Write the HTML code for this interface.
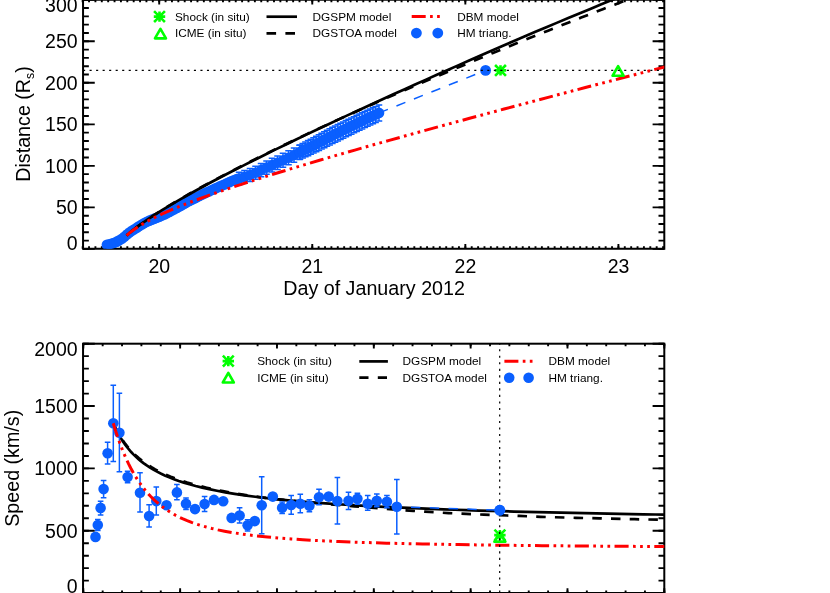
<!DOCTYPE html>
<html><head><meta charset="utf-8"><title>CME kinematics</title>
<style>html,body{margin:0;padding:0;background:#fff;overflow:hidden}svg{display:block;will-change:transform;transform:translateZ(0)}text{fill:#000}</style>
</head><body>
<svg width="830" height="593" viewBox="0 0 830 593">
<rect width="830" height="593" fill="#fff"/>
<g id="top">
<clipPath id="ct"><rect x="83.05" y="-5" width="581.25" height="253.75"/></clipPath>
<rect x="83.05" y="-0.25" width="581.25" height="249.0" fill="none" stroke="#000" stroke-width="2"/>
<path d="M82.66 248.75v-2.60M89.04 248.75v-2.60M95.42 248.75v-2.60M101.80 248.75v-2.60M108.18 248.75v-2.60M114.55 248.75v-2.60M120.93 248.75v-2.60M127.31 248.75v-2.60M133.69 248.75v-2.60M140.07 248.75v-2.60M146.44 248.75v-2.60M152.82 248.75v-2.60M159.20 248.75v-2.60M165.58 248.75v-2.60M171.96 248.75v-2.60M178.33 248.75v-2.60M184.71 248.75v-2.60M191.09 248.75v-2.60M197.47 248.75v-2.60M203.85 248.75v-2.60M210.22 248.75v-2.60M216.60 248.75v-2.60M222.98 248.75v-2.60M229.36 248.75v-2.60M235.74 248.75v-2.60M242.11 248.75v-2.60M248.49 248.75v-2.60M254.87 248.75v-2.60M261.25 248.75v-2.60M267.62 248.75v-2.60M274.00 248.75v-2.60M280.38 248.75v-2.60M286.76 248.75v-2.60M293.14 248.75v-2.60M299.51 248.75v-2.60M305.89 248.75v-2.60M312.27 248.75v-2.60M318.65 248.75v-2.60M325.03 248.75v-2.60M331.40 248.75v-2.60M337.78 248.75v-2.60M344.16 248.75v-2.60M350.54 248.75v-2.60M356.92 248.75v-2.60M363.29 248.75v-2.60M369.67 248.75v-2.60M376.05 248.75v-2.60M382.43 248.75v-2.60M388.81 248.75v-2.60M395.18 248.75v-2.60M401.56 248.75v-2.60M407.94 248.75v-2.60M414.32 248.75v-2.60M420.69 248.75v-2.60M427.07 248.75v-2.60M433.45 248.75v-2.60M439.83 248.75v-2.60M446.21 248.75v-2.60M452.58 248.75v-2.60M458.96 248.75v-2.60M465.34 248.75v-2.60M471.72 248.75v-2.60M478.10 248.75v-2.60M484.47 248.75v-2.60M490.85 248.75v-2.60M497.23 248.75v-2.60M503.61 248.75v-2.60M509.99 248.75v-2.60M516.36 248.75v-2.60M522.74 248.75v-2.60M529.12 248.75v-2.60M535.50 248.75v-2.60M541.88 248.75v-2.60M548.25 248.75v-2.60M554.63 248.75v-2.60M561.01 248.75v-2.60M567.39 248.75v-2.60M573.76 248.75v-2.60M580.14 248.75v-2.60M586.52 248.75v-2.60M592.90 248.75v-2.60M599.28 248.75v-2.60M605.65 248.75v-2.60M612.03 248.75v-2.60M618.41 248.75v-2.60M624.79 248.75v-2.60M631.17 248.75v-2.60M637.54 248.75v-2.60M643.92 248.75v-2.60M650.30 248.75v-2.60M656.68 248.75v-2.60M663.06 248.75v-2.60" stroke="#000" stroke-width="1.9" fill="none"/>
<path d="M82.66 -0.25v2.60M89.04 -0.25v2.60M95.42 -0.25v2.60M101.80 -0.25v2.60M108.18 -0.25v2.60M114.55 -0.25v2.60M120.93 -0.25v2.60M127.31 -0.25v2.60M133.69 -0.25v2.60M140.07 -0.25v2.60M146.44 -0.25v2.60M152.82 -0.25v2.60M159.20 -0.25v2.60M165.58 -0.25v2.60M171.96 -0.25v2.60M178.33 -0.25v2.60M184.71 -0.25v2.60M191.09 -0.25v2.60M197.47 -0.25v2.60M203.85 -0.25v2.60M210.22 -0.25v2.60M216.60 -0.25v2.60M222.98 -0.25v2.60M229.36 -0.25v2.60M235.74 -0.25v2.60M242.11 -0.25v2.60M248.49 -0.25v2.60M254.87 -0.25v2.60M261.25 -0.25v2.60M267.62 -0.25v2.60M274.00 -0.25v2.60M280.38 -0.25v2.60M286.76 -0.25v2.60M293.14 -0.25v2.60M299.51 -0.25v2.60M305.89 -0.25v2.60M312.27 -0.25v2.60M318.65 -0.25v2.60M325.03 -0.25v2.60M331.40 -0.25v2.60M337.78 -0.25v2.60M344.16 -0.25v2.60M350.54 -0.25v2.60M356.92 -0.25v2.60M363.29 -0.25v2.60M369.67 -0.25v2.60M376.05 -0.25v2.60M382.43 -0.25v2.60M388.81 -0.25v2.60M395.18 -0.25v2.60M401.56 -0.25v2.60M407.94 -0.25v2.60M414.32 -0.25v2.60M420.69 -0.25v2.60M427.07 -0.25v2.60M433.45 -0.25v2.60M439.83 -0.25v2.60M446.21 -0.25v2.60M452.58 -0.25v2.60M458.96 -0.25v2.60M465.34 -0.25v2.60M471.72 -0.25v2.60M478.10 -0.25v2.60M484.47 -0.25v2.60M490.85 -0.25v2.60M497.23 -0.25v2.60M503.61 -0.25v2.60M509.99 -0.25v2.60M516.36 -0.25v2.60M522.74 -0.25v2.60M529.12 -0.25v2.60M535.50 -0.25v2.60M541.88 -0.25v2.60M548.25 -0.25v2.60M554.63 -0.25v2.60M561.01 -0.25v2.60M567.39 -0.25v2.60M573.76 -0.25v2.60M580.14 -0.25v2.60M586.52 -0.25v2.60M592.90 -0.25v2.60M599.28 -0.25v2.60M605.65 -0.25v2.60M612.03 -0.25v2.60M618.41 -0.25v2.60M624.79 -0.25v2.60M631.17 -0.25v2.60M637.54 -0.25v2.60M643.92 -0.25v2.60M650.30 -0.25v2.60M656.68 -0.25v2.60M663.06 -0.25v2.60" stroke="#000" stroke-width="1.9" fill="none"/>
<path d="M159.20 248.75v-4.80M312.27 248.75v-4.80M465.34 248.75v-4.80M618.41 248.75v-4.80" stroke="#000" stroke-width="1.9" fill="none"/>
<path d="M159.20 -0.25v4.80M312.27 -0.25v4.80M465.34 -0.25v4.80M618.41 -0.25v4.80" stroke="#000" stroke-width="1.9" fill="none"/>
<path d="M83.05 248.90h5.80M83.05 240.59h5.80M83.05 232.29h5.80M83.05 223.99h5.80M83.05 215.68h5.80M83.05 207.38h5.80M83.05 199.07h5.80M83.05 190.77h5.80M83.05 182.46h5.80M83.05 174.16h5.80M83.05 165.85h5.80M83.05 157.55h5.80M83.05 149.24h5.80M83.05 140.94h5.80M83.05 132.63h5.80M83.05 124.33h5.80M83.05 116.02h5.80M83.05 107.72h5.80M83.05 99.41h5.80M83.05 91.10h5.80M83.05 82.80h5.80M83.05 74.50h5.80M83.05 66.19h5.80M83.05 57.88h5.80M83.05 49.58h5.80M83.05 41.28h5.80M83.05 32.97h5.80M83.05 24.66h5.80M83.05 16.36h5.80M83.05 8.06h5.80M83.05 -0.25h5.80" stroke="#000" stroke-width="1.9" fill="none"/>
<path d="M664.30 248.90h-5.80M664.30 240.59h-5.80M664.30 232.29h-5.80M664.30 223.99h-5.80M664.30 215.68h-5.80M664.30 207.38h-5.80M664.30 199.07h-5.80M664.30 190.77h-5.80M664.30 182.46h-5.80M664.30 174.16h-5.80M664.30 165.85h-5.80M664.30 157.55h-5.80M664.30 149.24h-5.80M664.30 140.94h-5.80M664.30 132.63h-5.80M664.30 124.33h-5.80M664.30 116.02h-5.80M664.30 107.72h-5.80M664.30 99.41h-5.80M664.30 91.10h-5.80M664.30 82.80h-5.80M664.30 74.50h-5.80M664.30 66.19h-5.80M664.30 57.88h-5.80M664.30 49.58h-5.80M664.30 41.28h-5.80M664.30 32.97h-5.80M664.30 24.66h-5.80M664.30 16.36h-5.80M664.30 8.06h-5.80M664.30 -0.25h-5.80" stroke="#000" stroke-width="1.9" fill="none"/>
<path d="M83.05 248.90h11.70M83.05 207.38h11.70M83.05 165.85h11.70M83.05 124.33h11.70M83.05 82.80h11.70M83.05 41.28h11.70M83.05 -0.25h11.70" stroke="#000" stroke-width="1.9" fill="none"/>
<path d="M664.30 248.90h-11.70M664.30 207.38h-11.70M664.30 165.85h-11.70M664.30 124.33h-11.70M664.30 82.80h-11.70M664.30 41.28h-11.70M664.30 -0.25h-11.70" stroke="#000" stroke-width="1.9" fill="none"/>
<g clip-path="url(#ct)">
<path d="M379.0 112.90L485.6 70.4" stroke="#0a5fff" stroke-width="1.5" stroke-dasharray="9.6 9.2" stroke-dashoffset="0" fill="none"/>
<path d="M239.00 172.14V184.74M235.75 172.14h6.5M235.75 184.74h6.5" stroke="#0a5fff" stroke-width="1.5" fill="none"/>
<path d="M244.50 170.51V183.27M241.25 170.51h6.5M241.25 183.27h6.5" stroke="#0a5fff" stroke-width="1.5" fill="none"/>
<path d="M250.00 168.55V181.47M246.75 168.55h6.5M246.75 181.47h6.5" stroke="#0a5fff" stroke-width="1.5" fill="none"/>
<path d="M255.50 166.16V179.24M252.25 166.16h6.5M252.25 179.24h6.5" stroke="#0a5fff" stroke-width="1.5" fill="none"/>
<path d="M261.00 163.54V176.78M257.75 163.54h6.5M257.75 176.78h6.5" stroke="#0a5fff" stroke-width="1.5" fill="none"/>
<path d="M266.50 160.88V174.28M263.25 160.88h6.5M263.25 174.28h6.5" stroke="#0a5fff" stroke-width="1.5" fill="none"/>
<path d="M272.00 158.35V171.91M268.75 158.35h6.5M268.75 171.91h6.5" stroke="#0a5fff" stroke-width="1.5" fill="none"/>
<path d="M277.50 155.89V169.62M274.25 155.89h6.5M274.25 169.62h6.5" stroke="#0a5fff" stroke-width="1.5" fill="none"/>
<path d="M283.00 153.33V167.22M279.75 153.33h6.5M279.75 167.22h6.5" stroke="#0a5fff" stroke-width="1.5" fill="none"/>
<path d="M288.50 150.67V164.72M285.25 150.67h6.5M285.25 164.72h6.5" stroke="#0a5fff" stroke-width="1.5" fill="none"/>
<path d="M294.00 147.95V162.17M290.75 147.95h6.5M290.75 162.17h6.5" stroke="#0a5fff" stroke-width="1.5" fill="none"/>
<path d="M299.50 145.18V159.57M296.25 145.18h6.5M296.25 159.57h6.5" stroke="#0a5fff" stroke-width="1.5" fill="none"/>
<path d="M300.00 144.93V159.33M296.75 144.93h6.5M296.75 159.33h6.5" stroke="#0a5fff" stroke-width="1.5" fill="none"/>
<path d="M302.70 143.48V158.10M299.45 143.48h6.5M299.45 158.10h6.5" stroke="#0a5fff" stroke-width="1.5" fill="none"/>
<path d="M305.40 142.03V156.87M302.15 142.03h6.5M302.15 156.87h6.5" stroke="#0a5fff" stroke-width="1.5" fill="none"/>
<path d="M308.10 140.58V155.63M304.85 140.58h6.5M304.85 155.63h6.5" stroke="#0a5fff" stroke-width="1.5" fill="none"/>
<path d="M310.80 139.13V154.37M307.55 139.13h6.5M307.55 154.37h6.5" stroke="#0a5fff" stroke-width="1.5" fill="none"/>
<path d="M313.50 137.69V153.06M310.25 137.69h6.5M310.25 153.06h6.5" stroke="#0a5fff" stroke-width="1.5" fill="none"/>
<path d="M316.20 136.23V151.73M312.95 136.23h6.5M312.95 151.73h6.5" stroke="#0a5fff" stroke-width="1.5" fill="none"/>
<path d="M318.90 134.75V150.38M315.65 134.75h6.5M315.65 150.38h6.5" stroke="#0a5fff" stroke-width="1.5" fill="none"/>
<path d="M321.60 133.27V149.02M318.35 133.27h6.5M318.35 149.02h6.5" stroke="#0a5fff" stroke-width="1.5" fill="none"/>
<path d="M324.30 131.77V147.66M321.05 131.77h6.5M321.05 147.66h6.5" stroke="#0a5fff" stroke-width="1.5" fill="none"/>
<path d="M327.00 130.28V146.30M323.75 130.28h6.5M323.75 146.30h6.5" stroke="#0a5fff" stroke-width="1.5" fill="none"/>
<path d="M329.70 128.80V144.95M326.45 128.80h6.5M326.45 144.95h6.5" stroke="#0a5fff" stroke-width="1.5" fill="none"/>
<path d="M332.40 127.34V143.62M329.15 127.34h6.5M329.15 143.62h6.5" stroke="#0a5fff" stroke-width="1.5" fill="none"/>
<path d="M335.10 125.90V142.30M331.85 125.90h6.5M331.85 142.30h6.5" stroke="#0a5fff" stroke-width="1.5" fill="none"/>
<path d="M337.80 124.56V140.93M334.55 124.56h6.5M334.55 140.93h6.5" stroke="#0a5fff" stroke-width="1.5" fill="none"/>
<path d="M340.50 123.22V139.57M337.25 123.22h6.5M337.25 139.57h6.5" stroke="#0a5fff" stroke-width="1.5" fill="none"/>
<path d="M343.20 121.89V138.22M339.95 121.89h6.5M339.95 138.22h6.5" stroke="#0a5fff" stroke-width="1.5" fill="none"/>
<path d="M345.90 120.57V136.87M342.65 120.57h6.5M342.65 136.87h6.5" stroke="#0a5fff" stroke-width="1.5" fill="none"/>
<path d="M348.60 119.25V135.52M345.35 119.25h6.5M345.35 135.52h6.5" stroke="#0a5fff" stroke-width="1.5" fill="none"/>
<path d="M351.30 117.94V134.19M348.05 117.94h6.5M348.05 134.19h6.5" stroke="#0a5fff" stroke-width="1.5" fill="none"/>
<path d="M354.00 116.63V132.86M350.75 116.63h6.5M350.75 132.86h6.5" stroke="#0a5fff" stroke-width="1.5" fill="none"/>
<path d="M356.70 115.33V131.53M353.45 115.33h6.5M353.45 131.53h6.5" stroke="#0a5fff" stroke-width="1.5" fill="none"/>
<path d="M359.40 114.04V130.22M356.15 114.04h6.5M356.15 130.22h6.5" stroke="#0a5fff" stroke-width="1.5" fill="none"/>
<path d="M362.10 112.75V128.91M358.85 112.75h6.5M358.85 128.91h6.5" stroke="#0a5fff" stroke-width="1.5" fill="none"/>
<path d="M364.80 111.48V127.61M361.55 111.48h6.5M361.55 127.61h6.5" stroke="#0a5fff" stroke-width="1.5" fill="none"/>
<path d="M367.50 110.21V126.31M364.25 110.21h6.5M364.25 126.31h6.5" stroke="#0a5fff" stroke-width="1.5" fill="none"/>
<path d="M370.20 108.95V125.03M366.95 108.95h6.5M366.95 125.03h6.5" stroke="#0a5fff" stroke-width="1.5" fill="none"/>
<path d="M372.90 107.70V123.75M369.65 107.70h6.5M369.65 123.75h6.5" stroke="#0a5fff" stroke-width="1.5" fill="none"/>
<path d="M375.60 106.45V122.48M372.35 106.45h6.5M372.35 122.48h6.5" stroke="#0a5fff" stroke-width="1.5" fill="none"/>
<path d="M379.00 104.90V120.90M375.75 104.90h6.5M375.75 120.90h6.5" stroke="#0a5fff" stroke-width="1.5" fill="none"/>
<circle cx="106.90" cy="244.68" r="5.3" fill="#0a5fff"/>
<circle cx="109.40" cy="244.20" r="5.3" fill="#0a5fff"/>
<circle cx="111.90" cy="243.53" r="5.3" fill="#0a5fff"/>
<circle cx="114.40" cy="242.73" r="5.3" fill="#0a5fff"/>
<circle cx="116.90" cy="241.65" r="5.3" fill="#0a5fff"/>
<circle cx="119.40" cy="240.28" r="5.3" fill="#0a5fff"/>
<circle cx="121.90" cy="238.74" r="5.3" fill="#0a5fff"/>
<circle cx="124.40" cy="236.82" r="5.3" fill="#0a5fff"/>
<circle cx="126.90" cy="234.61" r="5.3" fill="#0a5fff"/>
<circle cx="129.40" cy="232.52" r="5.3" fill="#0a5fff"/>
<circle cx="131.90" cy="230.78" r="5.3" fill="#0a5fff"/>
<circle cx="134.40" cy="229.18" r="5.3" fill="#0a5fff"/>
<circle cx="136.90" cy="227.63" r="5.3" fill="#0a5fff"/>
<circle cx="139.40" cy="226.07" r="5.3" fill="#0a5fff"/>
<circle cx="141.90" cy="224.49" r="5.3" fill="#0a5fff"/>
<circle cx="144.40" cy="223.03" r="5.3" fill="#0a5fff"/>
<circle cx="146.90" cy="221.77" r="5.3" fill="#0a5fff"/>
<circle cx="149.40" cy="220.66" r="5.3" fill="#0a5fff"/>
<circle cx="151.90" cy="219.64" r="5.3" fill="#0a5fff"/>
<circle cx="154.40" cy="218.65" r="5.3" fill="#0a5fff"/>
<circle cx="156.90" cy="217.73" r="5.3" fill="#0a5fff"/>
<circle cx="159.40" cy="216.70" r="5.3" fill="#0a5fff"/>
<circle cx="161.90" cy="215.58" r="5.3" fill="#0a5fff"/>
<circle cx="164.40" cy="214.39" r="5.3" fill="#0a5fff"/>
<circle cx="166.90" cy="213.15" r="5.3" fill="#0a5fff"/>
<circle cx="169.40" cy="211.88" r="5.3" fill="#0a5fff"/>
<circle cx="171.90" cy="210.58" r="5.3" fill="#0a5fff"/>
<circle cx="174.40" cy="209.29" r="5.3" fill="#0a5fff"/>
<circle cx="176.90" cy="207.95" r="5.3" fill="#0a5fff"/>
<circle cx="179.40" cy="206.56" r="5.3" fill="#0a5fff"/>
<circle cx="181.90" cy="205.14" r="5.3" fill="#0a5fff"/>
<circle cx="184.40" cy="203.73" r="5.3" fill="#0a5fff"/>
<circle cx="186.90" cy="202.34" r="5.3" fill="#0a5fff"/>
<circle cx="189.40" cy="201.00" r="5.3" fill="#0a5fff"/>
<circle cx="191.90" cy="199.71" r="5.3" fill="#0a5fff"/>
<circle cx="194.40" cy="198.45" r="5.3" fill="#0a5fff"/>
<circle cx="196.90" cy="197.20" r="5.3" fill="#0a5fff"/>
<circle cx="199.40" cy="195.97" r="5.3" fill="#0a5fff"/>
<circle cx="201.90" cy="194.76" r="5.3" fill="#0a5fff"/>
<circle cx="204.40" cy="193.56" r="5.3" fill="#0a5fff"/>
<circle cx="206.90" cy="192.37" r="5.3" fill="#0a5fff"/>
<circle cx="209.40" cy="191.20" r="5.3" fill="#0a5fff"/>
<circle cx="211.90" cy="190.04" r="5.3" fill="#0a5fff"/>
<circle cx="214.40" cy="188.90" r="5.3" fill="#0a5fff"/>
<circle cx="216.90" cy="187.77" r="5.3" fill="#0a5fff"/>
<circle cx="219.40" cy="186.66" r="5.3" fill="#0a5fff"/>
<circle cx="221.90" cy="185.54" r="5.3" fill="#0a5fff"/>
<circle cx="224.40" cy="184.43" r="5.3" fill="#0a5fff"/>
<circle cx="226.90" cy="183.29" r="5.3" fill="#0a5fff"/>
<circle cx="229.40" cy="182.13" r="5.3" fill="#0a5fff"/>
<circle cx="231.90" cy="181.01" r="5.3" fill="#0a5fff"/>
<circle cx="234.40" cy="179.99" r="5.3" fill="#0a5fff"/>
<circle cx="236.90" cy="179.09" r="5.3" fill="#0a5fff"/>
<circle cx="239.00" cy="178.44" r="5.3" fill="#0a5fff"/>
<circle cx="244.50" cy="176.89" r="5.3" fill="#0a5fff"/>
<circle cx="250.00" cy="175.01" r="5.3" fill="#0a5fff"/>
<circle cx="255.50" cy="172.70" r="5.3" fill="#0a5fff"/>
<circle cx="261.00" cy="170.16" r="5.3" fill="#0a5fff"/>
<circle cx="266.50" cy="167.58" r="5.3" fill="#0a5fff"/>
<circle cx="272.00" cy="165.13" r="5.3" fill="#0a5fff"/>
<circle cx="277.50" cy="162.76" r="5.3" fill="#0a5fff"/>
<circle cx="283.00" cy="160.27" r="5.3" fill="#0a5fff"/>
<circle cx="288.50" cy="157.70" r="5.3" fill="#0a5fff"/>
<circle cx="294.00" cy="155.06" r="5.3" fill="#0a5fff"/>
<circle cx="299.50" cy="152.37" r="5.3" fill="#0a5fff"/>
<circle cx="300.00" cy="152.13" r="5.3" fill="#0a5fff"/>
<circle cx="302.70" cy="150.79" r="5.3" fill="#0a5fff"/>
<circle cx="305.40" cy="149.45" r="5.3" fill="#0a5fff"/>
<circle cx="308.10" cy="148.10" r="5.3" fill="#0a5fff"/>
<circle cx="310.80" cy="146.75" r="5.3" fill="#0a5fff"/>
<circle cx="313.50" cy="145.38" r="5.3" fill="#0a5fff"/>
<circle cx="316.20" cy="143.98" r="5.3" fill="#0a5fff"/>
<circle cx="318.90" cy="142.57" r="5.3" fill="#0a5fff"/>
<circle cx="321.60" cy="141.14" r="5.3" fill="#0a5fff"/>
<circle cx="324.30" cy="139.72" r="5.3" fill="#0a5fff"/>
<circle cx="327.00" cy="138.29" r="5.3" fill="#0a5fff"/>
<circle cx="329.70" cy="136.88" r="5.3" fill="#0a5fff"/>
<circle cx="332.40" cy="135.48" r="5.3" fill="#0a5fff"/>
<circle cx="335.10" cy="134.10" r="5.3" fill="#0a5fff"/>
<circle cx="337.80" cy="132.75" r="5.3" fill="#0a5fff"/>
<circle cx="340.50" cy="131.40" r="5.3" fill="#0a5fff"/>
<circle cx="343.20" cy="130.05" r="5.3" fill="#0a5fff"/>
<circle cx="345.90" cy="128.72" r="5.3" fill="#0a5fff"/>
<circle cx="348.60" cy="127.39" r="5.3" fill="#0a5fff"/>
<circle cx="351.30" cy="126.06" r="5.3" fill="#0a5fff"/>
<circle cx="354.00" cy="124.74" r="5.3" fill="#0a5fff"/>
<circle cx="356.70" cy="123.43" r="5.3" fill="#0a5fff"/>
<circle cx="359.40" cy="122.13" r="5.3" fill="#0a5fff"/>
<circle cx="362.10" cy="120.83" r="5.3" fill="#0a5fff"/>
<circle cx="364.80" cy="119.54" r="5.3" fill="#0a5fff"/>
<circle cx="367.50" cy="118.26" r="5.3" fill="#0a5fff"/>
<circle cx="370.20" cy="116.99" r="5.3" fill="#0a5fff"/>
<circle cx="372.90" cy="115.72" r="5.3" fill="#0a5fff"/>
<circle cx="375.60" cy="114.47" r="5.3" fill="#0a5fff"/>
<circle cx="379.00" cy="112.90" r="5.3" fill="#0a5fff"/>
<circle cx="485.60" cy="70.40" r="5.4" fill="#0a5fff"/>
<path d="M126.60 235.54 L129.64 232.86 L133.22 229.92 L137.47 226.65 L142.42 223.06 L148.11 219.14 L154.67 214.83 L162.02 210.19 L170.41 205.10 L179.77 199.61 L190.12 193.73 L200.52 187.99 L211.05 182.30 L221.55 176.75 L232.11 171.27 L242.71 165.84 L253.33 160.49 L263.96 155.20 L274.70 149.91 L285.43 144.68 L296.12 139.52 L306.91 134.36 L317.66 129.27 L328.48 124.17 L339.24 119.14 L350.07 114.11 L360.83 109.15 L371.65 104.19 L382.53 99.22 L393.33 94.32 L404.18 89.42 L415.08 84.53 L426.03 79.63 L436.88 74.79 L447.77 69.96 L458.70 65.13 L469.68 60.29 L480.55 55.53 L491.45 50.76 L502.39 46.01 L513.36 41.27 L524.37 36.55 L535.41 31.85 L546.33 27.23 L557.28 22.63 L568.25 18.04 L579.26 13.46 L590.29 8.90 L601.35 4.36 L612.43 -0.16 L623.54 -4.67 L634.51 -9.10 L645.51 -13.52 L656.54 -17.92 L667.58 -22.31 L670.38 -23.41" stroke="#000" stroke-width="2.7" fill="none"/>
<path d="M126.60 235.54 L129.71 232.79 L133.44 229.72 L137.76 226.39 L142.78 222.74 L148.53 218.75 L155.04 214.44 L162.44 209.74 L170.77 204.64 L180.07 199.16 L190.35 193.28 L200.81 187.46 L211.31 181.78 L221.91 176.16 L232.46 170.68 L243.07 165.26 L253.70 159.90 L264.35 154.61 L275.00 149.38 L285.78 144.16 L296.55 139.00 L307.31 133.90 L318.06 128.88 L328.92 123.85 L339.77 118.88 L350.59 113.98 L361.52 109.08 L372.40 104.25 L383.24 99.48 L394.16 94.71 L405.03 90.01 L415.97 85.31 L426.98 80.61 L437.90 75.97 L448.88 71.33 L459.91 66.69 L470.84 62.12 L481.83 57.55 L492.88 52.98 L503.83 48.48 L514.83 44.00 L525.87 39.53 L536.95 35.07 L548.07 30.63 L559.06 26.27 L570.09 21.92 L581.15 17.59 L592.26 13.27 L603.39 8.97 L614.56 4.68 L625.76 0.40 L636.84 -3.80 L647.94 -7.98 L659.07 -12.15 L670.24 -16.31 L681.44 -20.45 L689.48 -23.41" stroke="#000" stroke-width="2.7" stroke-dasharray="9.6 9.30" stroke-dashoffset="7.13" fill="none"/>
<path d="M126.60 235.54 L129.05 233.40 L131.80 231.20 L134.86 228.98 L138.23 226.72 L142.06 224.34 L146.34 221.88 L151.24 219.25 L156.60 216.56 L162.72 213.67 L169.61 210.60 L177.26 207.37 L185.99 203.87 L195.78 200.13 L206.80 196.10 L217.98 192.16 L229.31 188.30 L240.63 184.55 L251.96 180.88 L263.29 177.29 L274.61 173.77 L285.94 170.30 L297.42 166.83 L308.90 163.41 L320.38 160.02 L331.86 156.67 L343.34 153.36 L354.82 150.07 L366.30 146.80 L377.78 143.56 L389.26 140.34 L400.74 137.15 L412.22 133.97 L423.70 130.80 L435.19 127.66 L446.67 124.53 L458.15 121.41 L469.63 118.30 L481.11 115.21 L492.59 112.12 L504.07 109.05 L515.55 105.99 L527.03 102.94 L538.51 99.90 L549.99 96.86 L561.47 93.83 L572.95 90.81 L584.43 87.80 L595.91 84.80 L607.39 81.80 L618.87 78.81 L630.35 75.82 L641.83 72.84 L653.31 69.87 L664.79 66.90 L669.23 65.75" stroke="#ff0000" stroke-width="3" stroke-dasharray="14.050 4.365 2.710 4.365 2.710 4.365 2.710 4.365" fill="none"/>
</g>
<path d="M496.10 70.4h8.80M500.5 66.60v7.60M496.00 65.90l9.00 9.00M496.00 74.90l9.00 -9.00" stroke="#00ff00" stroke-width="2.6" stroke-linecap="square" fill="none"/>
<path d="M618.1 66.2L623.6 75.75L612.6 75.75Z" stroke="#00ff00" stroke-width="2.6" fill="none" stroke-linejoin="round"/>
<path d="M83.05 70.34H664.3" stroke="#000" stroke-width="1.2" stroke-dasharray="2.1 4.42" stroke-dashoffset="0" fill="none"/>
<text x="77.6" y="214.275" font-size="19.5" text-anchor="end" font-family="Liberation Sans, sans-serif" >50</text>
<text x="77.6" y="172.75000000000003" font-size="19.5" text-anchor="end" font-family="Liberation Sans, sans-serif" >100</text>
<text x="77.6" y="131.225" font-size="19.5" text-anchor="end" font-family="Liberation Sans, sans-serif" >150</text>
<text x="77.6" y="89.70000000000002" font-size="19.5" text-anchor="end" font-family="Liberation Sans, sans-serif" >200</text>
<text x="77.6" y="48.175000000000004" font-size="19.5" text-anchor="end" font-family="Liberation Sans, sans-serif" >250</text>
<text x="77.6" y="11.7" font-size="19.5" text-anchor="end" font-family="Liberation Sans, sans-serif" >300</text>
<text x="77.6" y="249.9" font-size="19.5" text-anchor="end" font-family="Liberation Sans, sans-serif" >0</text>
<text x="159.29999999999998" y="273.3" font-size="19.5" text-anchor="middle" font-family="Liberation Sans, sans-serif" >20</text>
<text x="312.37" y="273.3" font-size="19.5" text-anchor="middle" font-family="Liberation Sans, sans-serif" >21</text>
<text x="465.44" y="273.3" font-size="19.5" text-anchor="middle" font-family="Liberation Sans, sans-serif" >22</text>
<text x="618.51" y="273.3" font-size="19.5" text-anchor="middle" font-family="Liberation Sans, sans-serif" >23</text>
<text x="374.1" y="294.9" font-size="19.7" text-anchor="middle" font-family="Liberation Sans, sans-serif" >Day of January 2012</text>
<text transform="translate(29.8 124) rotate(-90)" font-size="19.7" text-anchor="middle" font-family="Liberation Sans, sans-serif">Distance (R<tspan font-size="12.2" dy="4">s</tspan><tspan dy="-4">)</tspan></text>
<path d="M155.10 16.6h8.80M159.5 12.80v7.60M155.00 12.10l9.00 9.00M155.00 21.10l9.00 -9.00" stroke="#00ff00" stroke-width="2.6" stroke-linecap="square" fill="none"/>
<path d="M160.45 28.8L165.95 38.35L154.95 38.35Z" stroke="#00ff00" stroke-width="2.6" fill="none" stroke-linejoin="round"/>
<text x="175.0" y="20.6" font-size="11.8" text-anchor="start" font-family="Liberation Sans, sans-serif" >Shock (in situ)</text>
<text x="175.0" y="37.3" font-size="11.8" text-anchor="start" font-family="Liberation Sans, sans-serif" >ICME (in situ)</text>
<path d="M266.5 16.7H297" stroke="#000" stroke-width="2.7" fill="none"/>
<path d="M266.5 33.3H295" stroke="#000" stroke-width="2.7" stroke-dasharray="9.6 9.3" fill="none"/>
<text x="312.6" y="20.6" font-size="11.8" text-anchor="start" font-family="Liberation Sans, sans-serif" >DGSPM model</text>
<text x="312.6" y="37.3" font-size="11.8" text-anchor="start" font-family="Liberation Sans, sans-serif" >DGSTOA model</text>
<path d="M411.7 16.4H440.3" stroke="#ff0000" stroke-width="3" stroke-dasharray="14.000 4.350 2.700 4.350 2.700 4.350 2.700 4.350" fill="none"/>
<circle cx="416.40" cy="33.05" r="5.4" fill="#0a5fff"/>
<circle cx="437.80" cy="33.05" r="5.4" fill="#0a5fff"/>
<text x="457.2" y="20.6" font-size="11.8" text-anchor="start" font-family="Liberation Sans, sans-serif" >DBM model</text>
<text x="457.2" y="37.3" font-size="11.8" text-anchor="start" font-family="Liberation Sans, sans-serif" >HM triang.</text>
</g>
<g id="bot">
<clipPath id="cb"><rect x="83.05" y="343.7" width="581.25" height="254.3"/></clipPath>
<rect x="83.05" y="343.7" width="581.25" height="249.3" fill="none" stroke="#000" stroke-width="2"/>
<path d="M83.30 593.00v-2.60M102.67 593.00v-2.60M122.03 593.00v-2.60M141.40 593.00v-2.60M160.77 593.00v-2.60M180.13 593.00v-2.60M199.50 593.00v-2.60M218.87 593.00v-2.60M238.24 593.00v-2.60M257.60 593.00v-2.60M276.97 593.00v-2.60M296.34 593.00v-2.60M315.70 593.00v-2.60M335.07 593.00v-2.60M354.44 593.00v-2.60M373.81 593.00v-2.60M393.17 593.00v-2.60M412.54 593.00v-2.60M431.91 593.00v-2.60M451.27 593.00v-2.60M470.64 593.00v-2.60M490.01 593.00v-2.60M509.37 593.00v-2.60M528.74 593.00v-2.60M548.11 593.00v-2.60M567.48 593.00v-2.60M586.84 593.00v-2.60M606.21 593.00v-2.60M625.58 593.00v-2.60M644.94 593.00v-2.60M664.31 593.00v-2.60" stroke="#000" stroke-width="1.9" fill="none"/>
<path d="M83.30 343.70v2.60M102.67 343.70v2.60M122.03 343.70v2.60M141.40 343.70v2.60M160.77 343.70v2.60M180.13 343.70v2.60M199.50 343.70v2.60M218.87 343.70v2.60M238.24 343.70v2.60M257.60 343.70v2.60M276.97 343.70v2.60M296.34 343.70v2.60M315.70 343.70v2.60M335.07 343.70v2.60M354.44 343.70v2.60M373.81 343.70v2.60M393.17 343.70v2.60M412.54 343.70v2.60M431.91 343.70v2.60M451.27 343.70v2.60M470.64 343.70v2.60M490.01 343.70v2.60M509.37 343.70v2.60M528.74 343.70v2.60M548.11 343.70v2.60M567.48 343.70v2.60M586.84 343.70v2.60M606.21 343.70v2.60M625.58 343.70v2.60M644.94 343.70v2.60M664.31 343.70v2.60" stroke="#000" stroke-width="1.9" fill="none"/>
<path d="M83.30 593.00v-4.80M180.13 593.00v-4.80M276.97 593.00v-4.80M373.81 593.00v-4.80M470.64 593.00v-4.80M567.48 593.00v-4.80M664.31 593.00v-4.80" stroke="#000" stroke-width="1.9" fill="none"/>
<path d="M83.30 343.70v4.80M180.13 343.70v4.80M276.97 343.70v4.80M373.81 343.70v4.80M470.64 343.70v4.80M567.48 343.70v4.80M664.31 343.70v4.80" stroke="#000" stroke-width="1.9" fill="none"/>
<path d="M83.05 593.10h5.80M83.05 580.63h5.80M83.05 568.16h5.80M83.05 555.69h5.80M83.05 543.22h5.80M83.05 530.75h5.80M83.05 518.28h5.80M83.05 505.81h5.80M83.05 493.34h5.80M83.05 480.87h5.80M83.05 468.40h5.80M83.05 455.93h5.80M83.05 443.46h5.80M83.05 430.99h5.80M83.05 418.52h5.80M83.05 406.05h5.80M83.05 393.58h5.80M83.05 381.11h5.80M83.05 368.64h5.80M83.05 356.17h5.80M83.05 343.70h5.80" stroke="#000" stroke-width="1.9" fill="none"/>
<path d="M664.30 593.10h-5.80M664.30 580.63h-5.80M664.30 568.16h-5.80M664.30 555.69h-5.80M664.30 543.22h-5.80M664.30 530.75h-5.80M664.30 518.28h-5.80M664.30 505.81h-5.80M664.30 493.34h-5.80M664.30 480.87h-5.80M664.30 468.40h-5.80M664.30 455.93h-5.80M664.30 443.46h-5.80M664.30 430.99h-5.80M664.30 418.52h-5.80M664.30 406.05h-5.80M664.30 393.58h-5.80M664.30 381.11h-5.80M664.30 368.64h-5.80M664.30 356.17h-5.80M664.30 343.70h-5.80" stroke="#000" stroke-width="1.9" fill="none"/>
<path d="M83.05 593.10h11.70M83.05 530.75h11.70M83.05 468.40h11.70M83.05 406.05h11.70M83.05 343.70h11.70" stroke="#000" stroke-width="1.9" fill="none"/>
<path d="M664.30 593.10h-11.70M664.30 530.75h-11.70M664.30 468.40h-11.70M664.30 406.05h-11.70M664.30 343.70h-11.70" stroke="#000" stroke-width="1.9" fill="none"/>
<g clip-path="url(#cb)">
<path d="M113.30 423.30 L115.14 427.46 L116.98 431.25 L118.81 434.70 L120.65 437.87 L122.49 440.80 L124.33 443.50 L126.53 446.49 L128.74 449.24 L130.94 451.77 L133.15 454.11 L135.72 456.64 L138.30 458.96 L140.87 461.11 L143.81 463.38 L146.75 465.47 L150.06 467.63 L153.37 469.63 L157.04 471.66 L160.72 473.53 L164.76 475.43 L169.17 477.32 L173.95 479.19 L178.73 480.91 L183.88 482.60 L189.39 484.26 L195.64 485.97 L202.26 487.61 L209.24 489.19 L216.96 490.76 L225.41 492.32 L234.60 493.85 L244.53 495.33 L255.19 496.76 L266.95 498.17 L278.71 499.44 L290.48 500.58 L302.24 501.62 L314.00 502.56 L325.76 503.43 L337.53 504.23 L349.29 504.97 L361.05 505.65 L372.82 506.29 L384.58 506.89 L396.34 507.44 L408.10 507.97 L419.87 508.46 L431.63 508.92 L443.39 509.36 L455.15 509.77 L466.92 510.16 L478.68 510.53 L490.44 510.89 L502.20 511.22 L513.97 511.54 L525.73 511.85 L537.49 512.14 L549.26 512.42 L561.02 512.69 L572.78 512.95 L584.54 513.20 L596.31 513.43 L608.07 513.66 L619.83 513.88 L631.59 514.09 L643.36 514.30 L655.12 514.49 L664.31 514.64" stroke="#000" stroke-width="2.7" fill="none"/>
<path d="M113.30 423.30 L114.77 426.50 L116.61 430.15 L118.45 433.48 L120.28 436.53 L122.49 439.91 L124.70 443.03 L126.90 445.92 L129.11 448.58 L131.31 451.04 L133.88 453.68 L136.46 456.11 L139.03 458.35 L141.97 460.72 L144.91 462.90 L148.22 465.16 L151.53 467.24 L155.20 469.37 L158.88 471.33 L162.92 473.32 L167.34 475.30 L171.75 477.13 L176.52 478.94 L181.67 480.74 L187.18 482.50 L193.07 484.22 L199.31 485.89 L206.67 487.69 L214.75 489.51 L222.84 491.16 L231.29 492.74 L241.22 494.41 L251.14 495.93 L261.07 497.29 L272.10 498.64 L283.86 499.94 L295.62 501.14 L307.38 502.25 L319.15 503.30 L330.91 504.30 L342.67 505.32 L354.44 506.33 L366.20 507.30 L377.96 508.27 L389.72 509.20 L401.49 510.08 L413.25 510.89 L425.01 511.66 L436.77 512.39 L448.54 513.06 L460.30 513.67 L472.06 514.20 L483.83 514.66 L495.59 515.09 L507.35 515.50 L519.11 515.93 L530.51 516.40 L540.43 516.82 L552.20 517.18 L563.96 517.51 L575.72 517.81 L587.48 518.10 L599.25 518.39 L611.01 518.67 L622.77 518.94 L634.54 519.20 L646.30 519.46 L658.06 519.71 L664.31 519.85" stroke="#000" stroke-width="2.7" stroke-dasharray="9.5 9.20" stroke-dashoffset="18.06" fill="none"/>
<path d="M396.8 506.7L499.8 510.2" stroke="#0a5fff" stroke-width="1.5" stroke-dasharray="9.4 9.4" stroke-dashoffset="4.6" fill="none"/>
<path d="M97.80 519.60V530.60M95.00 519.60h5.6M95.00 530.60h5.6" stroke="#0a5fff" stroke-width="1.5" fill="none"/>
<path d="M100.60 501.30V515.00M97.80 501.30h5.6M97.80 515.00h5.6" stroke="#0a5fff" stroke-width="1.5" fill="none"/>
<path d="M103.60 480.60V497.80M100.80 480.60h5.6M100.80 497.80h5.6" stroke="#0a5fff" stroke-width="1.5" fill="none"/>
<path d="M107.60 442.20V464.00M104.80 442.20h5.6M104.80 464.00h5.6" stroke="#0a5fff" stroke-width="1.5" fill="none"/>
<path d="M113.30 385.30V461.40M110.50 385.30h5.6M110.50 461.40h5.6" stroke="#0a5fff" stroke-width="1.5" fill="none"/>
<path d="M119.40 393.20V471.80M116.60 393.20h5.6M116.60 471.80h5.6" stroke="#0a5fff" stroke-width="1.5" fill="none"/>
<path d="M127.60 471.20V482.80M124.80 471.20h5.6M124.80 482.80h5.6" stroke="#0a5fff" stroke-width="1.5" fill="none"/>
<path d="M140.00 472.80V512.00M137.20 472.80h5.6M137.20 512.00h5.6" stroke="#0a5fff" stroke-width="1.5" fill="none"/>
<path d="M149.10 504.70V527.00M146.30 504.70h5.6M146.30 527.00h5.6" stroke="#0a5fff" stroke-width="1.5" fill="none"/>
<path d="M156.30 487.10V515.00M153.50 487.10h5.6M153.50 515.00h5.6" stroke="#0a5fff" stroke-width="1.5" fill="none"/>
<path d="M176.90 484.60V499.80M174.10 484.60h5.6M174.10 499.80h5.6" stroke="#0a5fff" stroke-width="1.5" fill="none"/>
<path d="M186.00 497.90V509.50M183.20 497.90h5.6M183.20 509.50h5.6" stroke="#0a5fff" stroke-width="1.5" fill="none"/>
<path d="M204.60 496.60V511.40M201.80 496.60h5.6M201.80 511.40h5.6" stroke="#0a5fff" stroke-width="1.5" fill="none"/>
<path d="M239.60 507.70V522.90M236.80 507.70h5.6M236.80 522.90h5.6" stroke="#0a5fff" stroke-width="1.5" fill="none"/>
<path d="M247.60 519.70V530.90M244.80 519.70h5.6M244.80 530.90h5.6" stroke="#0a5fff" stroke-width="1.5" fill="none"/>
<path d="M261.70 476.70V533.70M258.90 476.70h5.6M258.90 533.70h5.6" stroke="#0a5fff" stroke-width="1.5" fill="none"/>
<path d="M282.15 502.00V513.50M279.35 502.00h5.6M279.35 513.50h5.6" stroke="#0a5fff" stroke-width="1.5" fill="none"/>
<path d="M291.20 495.60V514.30M288.40 495.60h5.6M288.40 514.30h5.6" stroke="#0a5fff" stroke-width="1.5" fill="none"/>
<path d="M300.30 494.20V512.80M297.50 494.20h5.6M297.50 512.80h5.6" stroke="#0a5fff" stroke-width="1.5" fill="none"/>
<path d="M309.40 499.70V511.80M306.60 499.70h5.6M306.60 511.80h5.6" stroke="#0a5fff" stroke-width="1.5" fill="none"/>
<path d="M319.00 489.20V504.70M316.20 489.20h5.6M316.20 504.70h5.6" stroke="#0a5fff" stroke-width="1.5" fill="none"/>
<path d="M337.40 477.40V524.00M334.60 477.40h5.6M334.60 524.00h5.6" stroke="#0a5fff" stroke-width="1.5" fill="none"/>
<path d="M348.50 492.20V509.40M345.70 492.20h5.6M345.70 509.40h5.6" stroke="#0a5fff" stroke-width="1.5" fill="none"/>
<path d="M357.40 493.20V504.20M354.60 493.20h5.6M354.60 504.20h5.6" stroke="#0a5fff" stroke-width="1.5" fill="none"/>
<path d="M367.70 495.60V510.20M364.90 495.60h5.6M364.90 510.20h5.6" stroke="#0a5fff" stroke-width="1.5" fill="none"/>
<path d="M376.80 494.00V506.80M374.00 494.00h5.6M374.00 506.80h5.6" stroke="#0a5fff" stroke-width="1.5" fill="none"/>
<path d="M386.90 495.60V507.80M384.10 495.60h5.6M384.10 507.80h5.6" stroke="#0a5fff" stroke-width="1.5" fill="none"/>
<path d="M396.80 479.40V534.10M394.00 479.40h5.6M394.00 534.10h5.6" stroke="#0a5fff" stroke-width="1.5" fill="none"/>
<circle cx="95.50" cy="536.90" r="5.3" fill="#0a5fff"/>
<circle cx="97.80" cy="525.10" r="5.3" fill="#0a5fff"/>
<circle cx="100.60" cy="507.90" r="5.3" fill="#0a5fff"/>
<circle cx="103.60" cy="489.10" r="5.3" fill="#0a5fff"/>
<circle cx="107.60" cy="453.30" r="5.3" fill="#0a5fff"/>
<circle cx="113.30" cy="423.30" r="5.3" fill="#0a5fff"/>
<circle cx="119.40" cy="432.70" r="5.3" fill="#0a5fff"/>
<circle cx="127.60" cy="477.00" r="5.3" fill="#0a5fff"/>
<circle cx="140.00" cy="492.80" r="5.3" fill="#0a5fff"/>
<circle cx="149.10" cy="516.00" r="5.3" fill="#0a5fff"/>
<circle cx="156.30" cy="501.10" r="5.3" fill="#0a5fff"/>
<circle cx="166.50" cy="505.30" r="5.3" fill="#0a5fff"/>
<circle cx="176.90" cy="492.40" r="5.3" fill="#0a5fff"/>
<circle cx="186.00" cy="503.70" r="5.3" fill="#0a5fff"/>
<circle cx="195.00" cy="509.10" r="5.3" fill="#0a5fff"/>
<circle cx="204.60" cy="504.10" r="5.3" fill="#0a5fff"/>
<circle cx="214.00" cy="499.90" r="5.3" fill="#0a5fff"/>
<circle cx="223.20" cy="501.30" r="5.3" fill="#0a5fff"/>
<circle cx="231.60" cy="517.90" r="5.3" fill="#0a5fff"/>
<circle cx="239.60" cy="515.50" r="5.3" fill="#0a5fff"/>
<circle cx="247.60" cy="525.30" r="5.3" fill="#0a5fff"/>
<circle cx="254.80" cy="521.10" r="5.3" fill="#0a5fff"/>
<circle cx="261.70" cy="505.30" r="5.3" fill="#0a5fff"/>
<circle cx="272.80" cy="496.60" r="5.3" fill="#0a5fff"/>
<circle cx="282.15" cy="507.75" r="5.3" fill="#0a5fff"/>
<circle cx="291.20" cy="505.00" r="5.3" fill="#0a5fff"/>
<circle cx="300.30" cy="503.70" r="5.3" fill="#0a5fff"/>
<circle cx="309.40" cy="505.70" r="5.3" fill="#0a5fff"/>
<circle cx="319.00" cy="497.30" r="5.3" fill="#0a5fff"/>
<circle cx="328.70" cy="496.60" r="5.3" fill="#0a5fff"/>
<circle cx="337.40" cy="501.10" r="5.3" fill="#0a5fff"/>
<circle cx="348.50" cy="500.70" r="5.3" fill="#0a5fff"/>
<circle cx="357.40" cy="498.70" r="5.3" fill="#0a5fff"/>
<circle cx="367.70" cy="503.70" r="5.3" fill="#0a5fff"/>
<circle cx="376.80" cy="500.70" r="5.3" fill="#0a5fff"/>
<circle cx="386.90" cy="501.70" r="5.3" fill="#0a5fff"/>
<circle cx="396.80" cy="506.70" r="5.3" fill="#0a5fff"/>
<circle cx="499.80" cy="510.20" r="5.4" fill="#0a5fff"/>
<path d="M113.30 423.30 L115.54 430.60 L117.69 437.10 L119.76 442.93 L122.03 448.88 L124.21 454.21 L126.32 459.00 L128.60 463.84 L130.81 468.18 L133.17 472.52 L135.46 476.42 L137.90 480.28 L140.25 483.74 L142.74 487.15 L145.36 490.46 L147.89 493.43 L150.54 496.32 L153.30 499.10 L156.16 501.75 L159.12 504.28 L162.16 506.69 L165.28 508.96 L168.49 511.10 L171.92 513.21 L175.42 515.18 L179.13 517.09 L183.04 518.92 L187.14 520.67 L191.55 522.38 L196.14 523.99 L201.01 525.53 L206.30 527.04 L211.97 528.48 L218.01 529.86 L224.52 531.17 L231.62 532.44 L239.37 533.66 L247.89 534.83 L257.23 535.95 L267.60 537.02 L279.07 538.04 L290.97 538.95 L302.89 539.73 L314.85 540.41 L326.78 541.01 L338.67 541.53 L350.65 542.00 L362.63 542.42 L374.60 542.79 L386.59 543.13 L398.51 543.44 L410.45 543.71 L422.42 543.97 L434.33 544.20 L446.28 544.41 L458.28 544.61 L470.23 544.79 L482.23 544.96 L494.18 545.12 L506.10 545.26 L518.08 545.40 L530.03 545.53 L541.94 545.65 L553.91 545.76 L565.86 545.87 L577.78 545.97 L589.77 546.06 L601.74 546.15 L613.68 546.23 L625.60 546.31 L637.59 546.39 L649.57 546.46 L661.52 546.53 L669.24 546.57" stroke="#ff0000" stroke-width="3" stroke-dasharray="14.090 4.378 2.717 4.378 2.717 4.378 2.717 4.378" fill="none"/>
</g>
<path d="M495.50 535.1h8.80M499.9 531.30v7.60M495.40 530.60l9.00 9.00M495.40 539.60l9.00 -9.00" stroke="#00ff00" stroke-width="2.6" stroke-linecap="square" fill="none"/>
<path d="M499.9 532.0999999999999L505.4 541.65L494.4 541.65Z" stroke="#00ff00" stroke-width="2.6" fill="none" stroke-linejoin="round"/>
<path d="M499.69 343.7V593.0" stroke="#000" stroke-width="1.2" stroke-dasharray="2.1 4.42" stroke-dashoffset="1" fill="none"/>
<circle cx="499.80" cy="510.20" r="5.4" fill="#0a5fff"/>
<text x="77.6" y="537.75" font-size="19.5" text-anchor="end" font-family="Liberation Sans, sans-serif" >500</text>
<text x="77.6" y="475.40000000000003" font-size="19.5" text-anchor="end" font-family="Liberation Sans, sans-serif" >1000</text>
<text x="77.6" y="413.05" font-size="19.5" text-anchor="end" font-family="Liberation Sans, sans-serif" >1500</text>
<text x="77.6" y="356.0" font-size="19.5" text-anchor="end" font-family="Liberation Sans, sans-serif" >2000</text>
<text x="77.6" y="592.5" font-size="19.5" text-anchor="end" font-family="Liberation Sans, sans-serif" >0</text>
<text transform="translate(19.2 468.3) rotate(-90)" font-size="19.7" text-anchor="middle" font-family="Liberation Sans, sans-serif">Speed (km/s)</text>
<path d="M223.90 361.1h8.80M228.3 357.30v7.60M223.80 356.60l9.00 9.00M223.80 365.60l9.00 -9.00" stroke="#00ff00" stroke-width="2.6" stroke-linecap="square" fill="none"/>
<path d="M228.3 372.95L233.8 382.5L222.8 382.5Z" stroke="#00ff00" stroke-width="2.6" fill="none" stroke-linejoin="round"/>
<text x="257.2" y="365.2" font-size="11.8" text-anchor="start" font-family="Liberation Sans, sans-serif" >Shock (in situ)</text>
<text x="257.2" y="381.8" font-size="11.8" text-anchor="start" font-family="Liberation Sans, sans-serif" >ICME (in situ)</text>
<path d="M359.3 361.4H387.9" stroke="#000" stroke-width="2.7" fill="none"/>
<path d="M359.3 377.6H387.5" stroke="#000" stroke-width="2.7" stroke-dasharray="9.2 9.3" fill="none"/>
<text x="402.5" y="365.2" font-size="11.8" text-anchor="start" font-family="Liberation Sans, sans-serif" >DGSPM model</text>
<text x="402.5" y="381.8" font-size="11.8" text-anchor="start" font-family="Liberation Sans, sans-serif" >DGSTOA model</text>
<path d="M504.4 361.2H533" stroke="#ff0000" stroke-width="3" stroke-dasharray="14.000 4.350 2.700 4.350 2.700 4.350 2.700 4.350" fill="none"/>
<circle cx="509.20" cy="377.70" r="5.3" fill="#0a5fff"/>
<circle cx="528.60" cy="377.70" r="5.3" fill="#0a5fff"/>
<text x="548.5" y="365.2" font-size="11.8" text-anchor="start" font-family="Liberation Sans, sans-serif" >DBM model</text>
<text x="548.5" y="381.8" font-size="11.8" text-anchor="start" font-family="Liberation Sans, sans-serif" >HM triang.</text>
</g>
</svg>
</body></html>
